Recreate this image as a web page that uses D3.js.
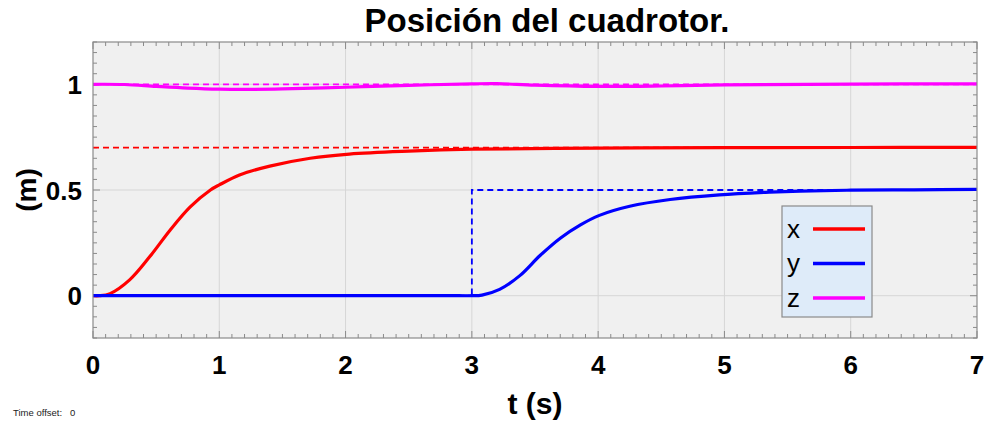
<!DOCTYPE html>
<html>
<head>
<meta charset="utf-8">
<script src="https://cdn.jsdelivr.net/npm/d3@7"></script>
<style>
  body { margin: 0; background: #fff; }
  svg { display: block; font-family: "Liberation Sans", Arial, sans-serif; }
</style>
</head>
<body>
<svg id="canvas" width="986" height="424"></svg>
<script>

var tX = [0, 0.05, 0.135, 0.29, 0.45, 0.61, 0.77, 0.93, 1.0, 1.16, 1.4, 1.72, 2.03, 2.5, 3.0, 4.0, 5.0, 6.0, 7.0];
var posX = [0, 0, 0.01, 0.075, 0.185, 0.31, 0.42, 0.5, 0.524, 0.571, 0.613, 0.65, 0.67, 0.684, 0.693, 0.698, 0.7, 0.701, 0.702];

var tY = [0, 1.0, 2.0, 2.9, 3.0, 3.08, 3.22, 3.38, 3.54, 3.7, 3.86, 4.01, 4.25, 4.57, 4.96, 5.36, 5.6, 6.0, 6.5, 7.0];
var posY = [0, 0, 0, 0, 0, 0.003, 0.03, 0.095, 0.19, 0.272, 0.335, 0.38, 0.423, 0.455, 0.477, 0.49, 0.495, 0.499, 0.501, 0.503];

var tZ = [0, 0.25, 0.5, 0.75, 1.0, 1.25, 1.5, 2.0, 2.5, 3.0, 3.2, 3.5, 4.0, 4.5, 5.0, 6.0, 7.0];
var posZ = [1.0, 0.999, 0.99, 0.982, 0.977, 0.976, 0.978, 0.986, 0.995, 1.002, 1.003, 0.996, 0.99, 0.992, 0.997, 1.001, 1.002];

// references
var refX = [[0, 0.7], [7, 0.7]];
var refY = [[0, 0], [3, 0], [3, 0.5], [7, 0.5]];
var refZ = [[0, 1], [7, 1]];

var xTicks = [0, 1, 2, 3, 4, 5, 6, 7];
var yTicks = [0, 0.5, 1];
var yTickLabels = ["0", "0.5", "1"];

var series = [
	{name: "x", color: "#ff0000", t: tX, v: posX, ref: refX},
	{name: "y", color: "#0000ff", t: tY, v: posY, ref: refY},
	{name: "z", color: "#ff00ff", t: tZ, v: posZ, ref: refZ}
];

var svg = d3.select("#canvas");

var plot = {left: 93, right: 977, top: 42, bottom: 338};

var x = d3.scaleLinear().domain([0, 7]).range([plot.left, plot.right]);
var y = d3.scaleLinear().domain([-0.2, 1.2]).range([plot.bottom, plot.top]);

// background
svg.append("rect")
	.attr("x", plot.left).attr("y", plot.top)
	.attr("width", plot.right - plot.left)
	.attr("height", plot.bottom - plot.top)
	.attr("fill", "#f0f0f0");

// grid
svg.append("g").selectAll("line")
	.data(xTicks.slice(1, -1))
	.enter().append("line")
	.attr("x1", function(d) { return x(d); })
	.attr("x2", function(d) { return x(d); })
	.attr("y1", plot.top).attr("y2", plot.bottom)
	.attr("stroke", "#d6d6d6").attr("stroke-width", 1);

svg.append("g").selectAll("line")
	.data(yTicks)
	.enter().append("line")
	.attr("x1", plot.left).attr("x2", plot.right)
	.attr("y1", function(d) { return y(d); })
	.attr("y2", function(d) { return y(d); })
	.attr("stroke", "#d6d6d6").attr("stroke-width", 1);

// ticks on all four sides
var xMinor = d3.range(0, 70.5, 1).map(function(d) { return d / 10; });
var yMinor = d3.range(-4, 24.5, 1).map(function(d) { return d / 20; });

function tickLen(v, step) {
	return Math.abs(v / step - Math.round(v / step)) < 1e-6 ? 7 : 4;
}

var ticks = svg.append("g").attr("stroke", "#8a8a8a").attr("stroke-width", 1);

xMinor.forEach(function(d) {
	var L = tickLen(d, 1);
	ticks.append("line").attr("x1", x(d)).attr("x2", x(d))
		.attr("y1", plot.bottom).attr("y2", plot.bottom - L);
	ticks.append("line").attr("x1", x(d)).attr("x2", x(d))
		.attr("y1", plot.top).attr("y2", plot.top + L);
});

yMinor.forEach(function(d) {
	var L = tickLen(d, 0.5);
	ticks.append("line").attr("y1", y(d)).attr("y2", y(d))
		.attr("x1", plot.left).attr("x2", plot.left + L);
	ticks.append("line").attr("y1", y(d)).attr("y2", y(d))
		.attr("x1", plot.right).attr("x2", plot.right - L);
});

// curves
var line = d3.line()
	.x(function(d) { return x(d[0]); })
	.y(function(d) { return y(d[1]); })
	.curve(d3.curveCatmullRom.alpha(0.5));

var refLine = d3.line()
	.x(function(d) { return x(d[0]); })
	.y(function(d) { return y(d[1]); });

series.forEach(function(s) {
	svg.append("path")
		.datum(s.t.map(function(t, i) { return [t, s.v[i]]; }))
		.attr("d", line)
		.attr("fill", "none")
		.attr("stroke", s.color)
		.attr("stroke-width", 3.2);
});

series.forEach(function(s) {
	svg.append("path")
		.datum(s.ref)
		.attr("d", refLine)
		.attr("fill", "none")
		.attr("stroke", s.color)
		.attr("stroke-width", 1.8)
		.attr("stroke-dasharray", "6,4");
});

// frame
svg.append("rect")
	.attr("x", plot.left).attr("y", plot.top)
	.attr("width", plot.right - plot.left)
	.attr("height", plot.bottom - plot.top)
	.attr("fill", "none")
	.attr("stroke", "#8a8a8a").attr("stroke-width", 1.2);

// tick labels
svg.append("g").selectAll("text")
	.data(xTicks)
	.enter().append("text")
	.attr("x", function(d) { return x(d); })
	.attr("y", 374)
	.attr("text-anchor", "middle")
	.attr("font-size", 26).attr("font-weight", "bold")
	.text(function(d) { return d; });

svg.append("g").selectAll("text")
	.data(yTicks)
	.enter().append("text")
	.attr("x", 82)
	.attr("y", function(d) { return y(d) + 9.5; })
	.attr("text-anchor", "end")
	.attr("font-size", 26).attr("font-weight", "bold")
	.text(function(d, i) { return yTickLabels[i]; });

// titles
svg.append("text")
	.attr("x", 547).attr("y", 32)
	.attr("text-anchor", "middle")
	.attr("font-size", 33).attr("font-weight", "bold")
	.text("Posición del cuadrotor.");

svg.append("text")
	.attr("x", (plot.left + plot.right) / 2).attr("y", 414)
	.attr("text-anchor", "middle")
	.attr("font-size", 30).attr("font-weight", "bold")
	.text("t (s)");

svg.append("text")
	.attr("transform", "translate(36," + y(0.5) + ") rotate(-90)")
	.attr("text-anchor", "middle")
	.attr("font-size", 28).attr("font-weight", "bold")
	.text("(m)");

svg.append("text")
	.attr("x", 13).attr("y", 415.5)
	.attr("font-size", 9.5).attr("fill", "#222")
	.attr("xml:space", "preserve")
	.text("Time offset:   0");

// legend
var legend = svg.append("g").attr("transform", "translate(782,206)");

legend.append("rect")
	.attr("width", 90).attr("height", 111)
	.attr("fill", "#deebf9")
	.attr("stroke", "#8a8a8a").attr("stroke-width", 1.2);

var items = legend.selectAll("g.item")
	.data(series)
	.enter().append("g")
	.attr("class", "item")
	.attr("transform", function(d, i) { return "translate(0," + (23 + i * 34.5) + ")"; });

items.append("text")
	.attr("x", 5).attr("y", 8.5)
	.attr("font-size", 26)
	.text(function(d) { return d.name; });

items.append("line")
	.attr("x1", 31).attr("x2", 83)
	.attr("y1", 0).attr("y2", 0)
	.attr("stroke", function(d) { return d.color; })
	.attr("stroke-width", 3.5);

</script>
</body>
</html>
